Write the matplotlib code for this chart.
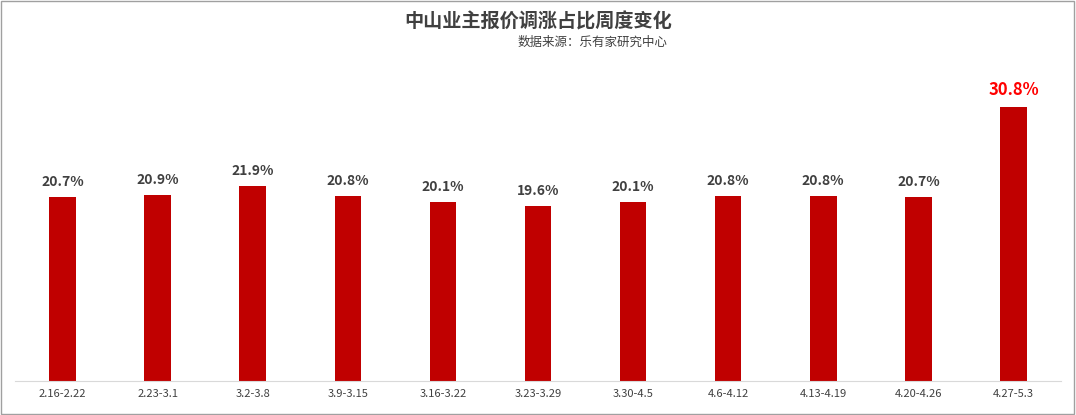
import matplotlib.pyplot as plt
from matplotlib.patches import Rectangle

plt.rcParams['font.family'] = ['Noto Sans CJK SC', 'DejaVu Sans']

weeks = ['2.16-2.22', '2.23-3.1', '3.2-3.8', '3.9-3.15', '3.16-3.22', '3.23-3.29',
         '3.30-4.5', '4.6-4.12', '4.13-4.19', '4.20-4.26', '4.27-5.3']
share = [20.7, 20.9, 21.9, 20.8, 20.1, 19.6, 20.1, 20.8, 20.8, 20.7, 30.8]

fig = plt.figure(figsize=(10.76, 4.15), dpi=100)
ax = fig.add_axes([15 / 1076, 34 / 415, 1046 / 1076, 341 / 415])
x = list(range(len(weeks)))
ax.bar(x, share, width=0.28, color='#C00000')
ax.set_xlim(-0.5, len(weeks) - 0.5)
ax.set_ylim(0, 38.3)

for i, v in enumerate(share):
    last = i == len(share) - 1
    ax.text(i, v + 0.9, f'{v:.1f}%', ha='center', va='bottom', fontweight='bold',
            fontsize=12 if last else 10, color='#FF0000' if last else '#404040')

ax.set_xticks(x)
ax.set_xticklabels(weeks, fontsize=8, color='#404040')
ax.tick_params(axis='x', length=0, pad=6)
ax.set_yticks([])
for s in ['top', 'right', 'left']:
    ax.spines[s].set_visible(False)
ax.spines['bottom'].set_color('#D9D9D9')

fig.text(0.5, 1 - 22 / 415, '中山业主报价调涨占比周度变化', ha='center', va='center',
         fontsize=13.8, fontweight='bold', color='#404040')
fig.text(668 / 1076, 1 - 42 / 415, '数据来源：乐有家研究中心', ha='right', va='center',
         fontsize=9, color='#404040')
fig.patches.append(Rectangle((0.001, 0.002), 0.997, 0.996, transform=fig.transFigure,
                             fill=False, edgecolor='#A0A0A0', linewidth=1))

fig.savefig('out.png', dpi=100)
